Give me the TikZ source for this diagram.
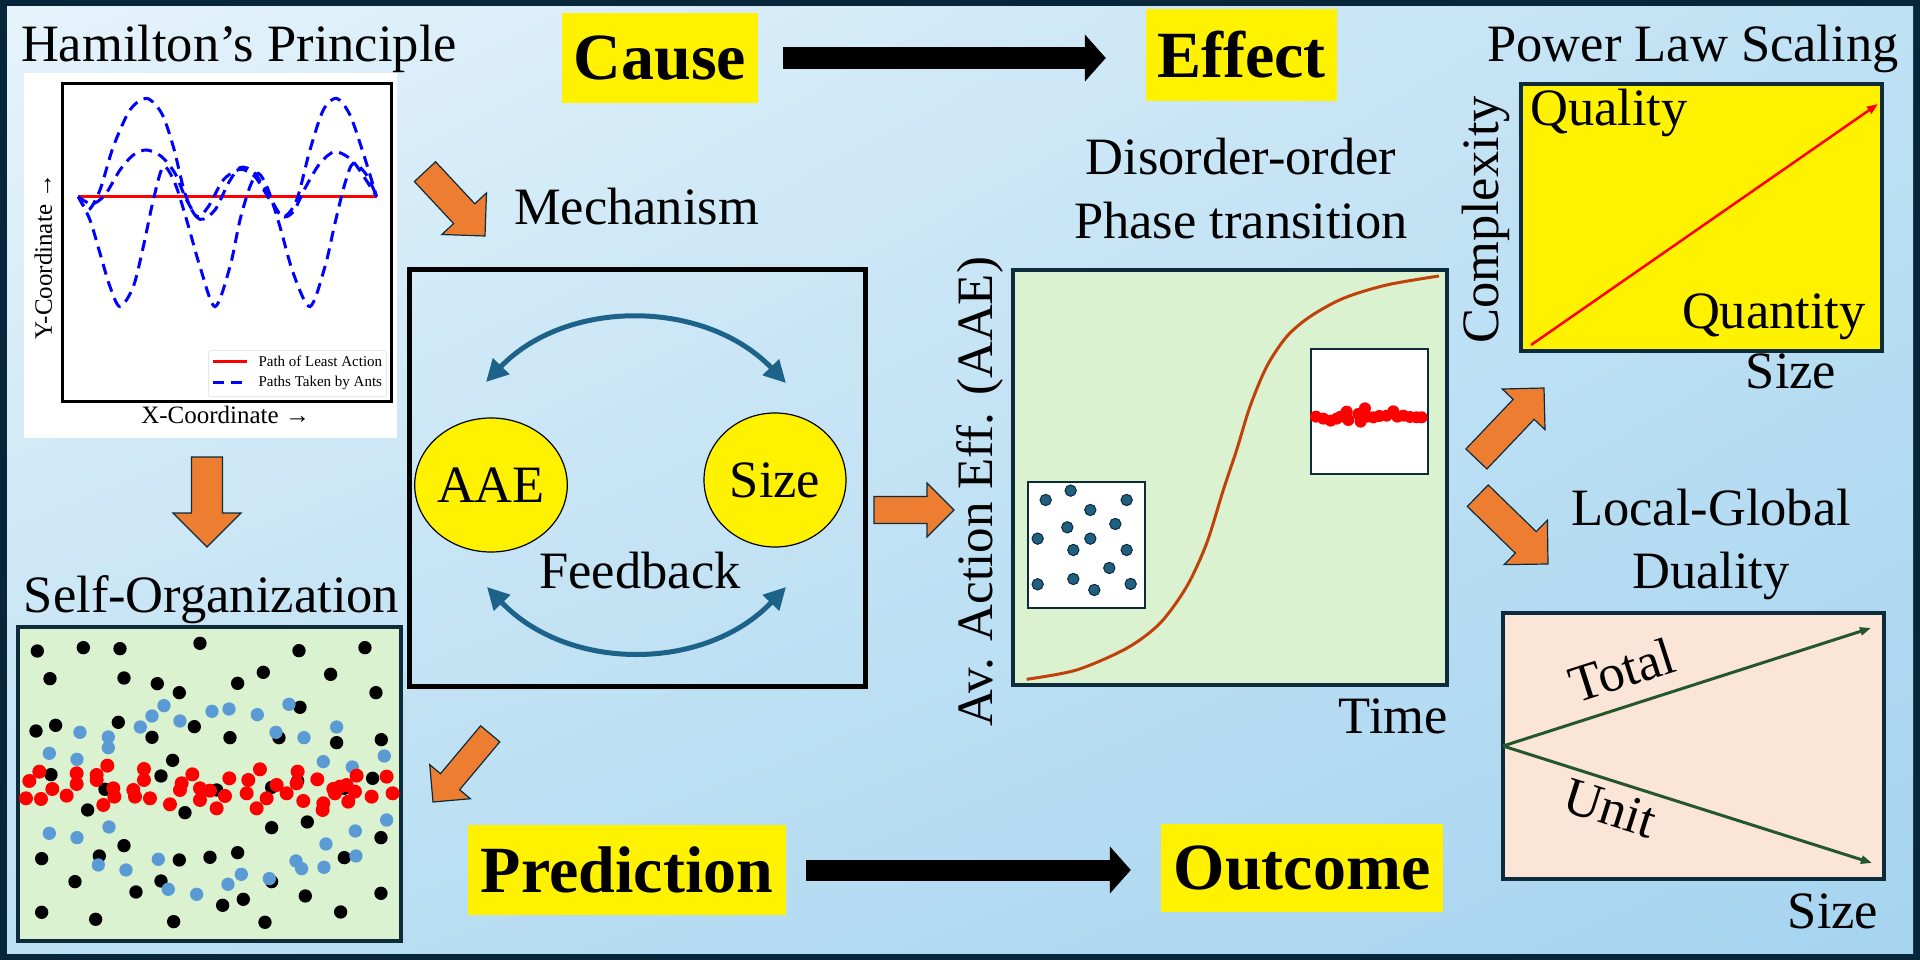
\documentclass[tikz,border=0pt]{standalone}
\usepackage{fontspec}
\setmainfont{Liberation Serif}
\usetikzlibrary{arrows.meta, shapes.geometric, shadings, positioning}

\definecolor{frame}{HTML}{08263A}
\definecolor{navy}{HTML}{0E2B3C}
\definecolor{bgtl}{HTML}{E6F3FB}
\definecolor{bgtr}{HTML}{BFE1F4}
\definecolor{bgbl}{HTML}{BDE0F3}
\definecolor{bgbr}{HTML}{A6D4EF}
\definecolor{orng}{HTML}{ED7D31}
\definecolor{fbteal}{HTML}{1D6389}
\definecolor{mint}{HTML}{DAF2D0}
\definecolor{peach}{HTML}{FBE5D6}
\definecolor{dotblue}{HTML}{5B9BD5}
\definecolor{tealdot}{HTML}{1F5F80}
\definecolor{sigred}{HTML}{C0410A}
\definecolor{dgreen}{HTML}{24582C}

\newcommand{\blockarrow}[6]{%
  \begin{scope}[shift={(#1,#2)}, rotate=#3]
    \draw[orangearrow] (0,0) -- (-#6/2,#6/2) -- (-#6/2,#5/2) -- (-#4,#5/2)
      -- (-#4,-#5/2) -- (-#6/2,-#5/2) -- (-#6/2,-#6/2) -- cycle;
  \end{scope}}

\begin{document}
\begin{tikzpicture}[x=1pt, y=-1pt,
    lbl/.style={font=\fontsize{52.5}{60}\selectfont, inner sep=0pt},
    ybox/.style={fill=yellow, inner sep=0pt, font=\bfseries\fontsize{66}{70}\selectfont},
    blob/.style={ellipse, draw=black, line width=1.2pt, fill=yellow, minimum width=142pt,
      minimum height=134pt, inner sep=0pt, font=\fontsize{52.5}{60}\selectfont},
    plotframe/.style={draw=navy, line width=4pt},
    bigarrow/.style={line width=22pt, -{Triangle[length=21pt, width=46pt]}},
    loopedge/.style={fbteal, line width=5pt,
      {Triangle[length=22pt, width=22pt]}-{Triangle[length=22pt, width=22pt]}},
    orangearrow/.style={fill=orng, draw=navy, line width=1.2pt, line join=miter},
    antpath/.style={blue, line width=3pt, dash pattern=on 11pt off 7pt},
    trendline/.style={line width=3pt, -{Triangle[length=11pt, width=8pt]}}]
  \useasboundingbox (0,0) rectangle (1920,960);
  \fill[frame] (0,0) rectangle (1920,960);
  \shade[upper left=bgtl, upper right=bgtr, lower left=bgbl, lower right=bgbr] (7,7) rectangle (1913,953);

  \node[lbl, anchor=base] (hamtitle) at (239,62) {Hamilton's Principle};
  \node[ybox, minimum width=196pt, minimum height=90pt] (cause) at (660,58) {Cause};
  \node[ybox, minimum width=191pt, minimum height=92pt] (effect) at (1241.5,55) {Effect};
  \draw[bigarrow, shorten <=25pt, shorten >=40pt] (cause.east) -- (cause.east -| effect.west);
  \node[lbl, anchor=base] (powtitle) at (1693,62) {Power Law Scaling};

  \fill[white] (24,73) rectangle (397,438);
  \begin{scope}[shift={(0,60)}, scale=0.3333]
    \draw[line width=2.7pt] (187,70) rectangle (1175,1025);
    \draw[red, line width=3pt] (235,410) -- (1130,410);
    \draw[antpath] plot[smooth] coordinates {(235,410) (270,480) (300,580) (330,680) (360,740)
      (400,680) (430,560) (460,420) (490,320) (525,370) (560,480) (600,620) (645,740) (690,620)
      (720,480) (750,380) (775,340) (805,390) (840,500) (880,640) (930,740) (975,620) (1005,490)
      (1035,370) (1060,310) (1100,345) (1130,410)};
    \draw[antpath] plot[smooth] coordinates {(235,410) (265,450) (300,390) (340,260) (390,150)
      (440,115) (485,160) (520,260) (555,400) (590,470) (625,440) (670,360) (720,328) (765,350)
      (810,420) (850,470) (890,420) (930,270) (970,150) (1010,115) (1050,165) (1090,280) (1130,410)};
    \draw[antpath] plot[smooth] coordinates {(235,410) (275,432) (315,405) (360,330) (400,285)
      (440,270) (485,290) (525,340) (560,420) (600,478) (645,450) (685,370) (720,323) (760,335)
      (800,395) (845,468) (880,455) (915,385) (960,310) (1005,275) (1055,300) (1095,355) (1130,410)};
    \draw[gray!30, fill=white, rounded corners=2pt] (625,872) rectangle (1160,1010);
    \draw[red, line width=3pt] (640,905) -- (740,905);
    \draw[antpath] (640,968) -- (740,968);
    \node[anchor=west, font=\fontsize{15}{18}\selectfont] (leastact) at (765,905) {Path of Least Action};
    \node[anchor=west, font=\fontsize{15}{18}\selectfont] (antpaths) at (765,968) {Paths Taken by Ants};
    \node[rotate=90, font=\fontsize{25}{30}\selectfont] (ylab) at (130,590) {Y-Coordinate →};
    \node[font=\fontsize{25}{30}\selectfont] (xlab) at (677,1065) {X-Coordinate →};
  \end{scope}

  \blockarrow{207}{547}{-90}{90}{31}{68}
  \node[lbl, anchor=base] (selforg) at (211.5,612) {Self-Organization};
  \draw[plotframe, fill=mint] (18,627) rectangle (401,941);
  \begin{scope}[shift={(0,580)}, scale=0.3333]
    \foreach \x/\y in {112/213, 250/203, 360/206, 600/190, 897/212, 1095/203, 150/296, 372/294,
      472/311, 538/338, 713/310, 790/277, 992/283, 1128/338, 108/453, 167/436, 355/427, 456/472,
      583/440, 690/473, 837/473, 900/382, 1010/488, 1144/479, 518/541, 153/584, 483/588, 315/628,
      650/630, 815/622, 893/603, 1118/595, 1033/625, 263/690, 555/698, 815/743, 922/726, 1143/773,
      372/797, 125/836, 298/828, 538/840, 630/832, 713/818, 1033/833, 225/905, 483/903, 408/936,
      815/905, 668/976, 730/958, 916/948, 1143/940, 125/997, 287/1018, 521/1025, 795/1027, 1022/996}
      \fill (\x,\y) circle (20);
    \foreach \x/\y in {492/377, 456/408, 421/441, 540/423, 636/394, 687/387, 772/404, 867/373,
      1010/441, 240/457, 325/471, 325/503, 148/520, 231/538, 828/457, 912/473, 970/545, 1153/528,
      1057/561, 148/760, 231/773, 327/741, 1160/720, 1066/753, 978/792, 1068/828, 888/843, 905/866,
      972/862, 475/838, 295/855, 378/870, 505/928, 590/943, 684/913, 724/883, 808/896}
      \fill[dotblue] (\x,\y) circle (20);
    \foreach \x/\y in {118/575, 88/603, 78/655, 123/657, 157/627, 200/647, 230/580, 230/612,
      290/585, 290/600, 322/557, 340/625, 310/675, 343/650, 400/630, 405/650, 432/567, 432/600,
      450/655, 510/673, 545/610, 540/630, 577/583, 600/625, 600/660, 630/632, 650/685, 675/648,
      688/595, 745/600, 740/640, 780/568, 770/685, 800/655, 830/615, 860/640, 893/575, 890/610,
      910/663, 952/598, 970/670, 968/690, 1000/627, 1005/640, 1040/615, 1045/665, 1065/635,
      1070/587, 1115/650, 1160/590, 1178/640, 1020/620}
      \fill[red] (\x,\y) circle (21);
  \end{scope}

  \blockarrow{485}{236}{-47}{88}{29}{61}
  \node[lbl, anchor=base] (mechtxt) at (636.5,225) {Mechanism};
  \draw[line width=5pt] (409.5,269.5) rectangle (865.5,686.5);
  \node[blob] (aae) at (491,485) {AAE};
  \node[blob] (size) at (775,480) {Size};
  \node[lbl, anchor=base] (fdbk) at (640,588) {Feedback};
  \coordinate (fbul) at (486,382);
  \coordinate (fbur) at (786,383);
  \coordinate (fbll) at (487,587);
  \coordinate (fblr) at (786,587);
  \draw[loopedge] (fbul) .. controls (567,298) and (705,299) .. (fbur);
  \draw[loopedge] (fbll) .. controls (568,672) and (705,672) .. (fblr);

  \blockarrow{954}{510}{0}{80}{27}{54}
  \blockarrow{433}{802}{230}{89}{25}{53}

  \node[ybox, minimum width=318pt, minimum height=90pt] (prediction) at (627,870) {Prediction};
  \node[ybox, minimum width=282pt, minimum height=88pt] (outcome) at (1302,868) {Outcome};
  \draw[bigarrow, line width=21pt, shorten <=20pt, shorten >=30pt] (prediction.east) -- (prediction.east -| outcome.west);

  \node[lbl, anchor=base] (disord) at (1241,175) {Disorder-order};
  \node[lbl, anchor=base] (phasetr) at (1241,239) {Phase transition};
  \draw[plotframe, fill=mint] (1013,270) rectangle (1447,685);
  \begin{scope}[shift={(960,250)}, scale=0.3333]
    \draw[sigred, line width=3pt] plot[smooth] coordinates {(200,1288) (350,1260) (500,1195)
      (600,1120) (680,1010) (740,880) (790,720) (830,600) (870,470) (920,350) (980,260)
      (1050,200) (1150,145) (1280,105) (1437,78)};
    \draw[navy, line width=2pt, fill=white] (205,695) rectangle (555,1073);
    \foreach \x/\y in {257/750, 332/722, 500/750, 391/780, 322/832, 466/822, 233/866, 391/866,
      340/900, 500/900, 448/954, 233/1003, 340/987, 403/1020, 512/1002}
      \filldraw[fill=tealdot, draw=navy, line width=1pt] (\x,\y) circle (17);
    \draw[navy, line width=2pt, fill=white] (1052,297) rectangle (1405,672);
    \foreach \x/\y in {1068/500, 1090/506, 1112/512, 1130/506, 1142/500, 1160/485, 1165/510,
      1195/492, 1202/515, 1215/475, 1222/500, 1240/502, 1258/498, 1280/497, 1300/484, 1312/500,
      1330/497, 1350/501, 1370/502, 1385/502}
      \fill[red] (\x,\y) circle (18);
  \end{scope}
  \node[font=\fontsize{51}{60}\selectfont, rotate=90, anchor=base, inner sep=0pt] (aaelab) at (992,491.5) {Av. Action Eff. (AAE)};
  \node[lbl, anchor=base east] (timelab) at (1448,733) {Time};

  \draw[plotframe, fill=yellow] (1521,84) rectangle (1882,351);
  \coordinate (plo) at (1531,345);
  \coordinate (phi) at (1878,104);
  \draw[trendline, red, line width=2.5pt] (plo) -- (phi);
  \node[lbl, anchor=base west] (quality) at (1530,126) {Quality};
  \node[lbl, anchor=base east] (quantity) at (1866,328) {Quantity};
  \node[lbl, rotate=90, anchor=base] (complex) at (1498,220) {Complexity};
  \node[lbl, anchor=base] (sizeup) at (1791,388) {Size};

  \blockarrow{1544}{388}{46.4}{98}{29}{59}
  \blockarrow{1548}{564}{-44.2}{98}{30}{62}

  \node[lbl, anchor=base] (locglob) at (1711,525) {Local-Global};
  \node[lbl, anchor=base] (duality) at (1711,588) {Duality};
  \draw[plotframe, fill=peach] (1503,613) rectangle (1884,879);
  \coordinate (dorig) at (1503,746);
  \coordinate (dtot) at (1871,628);
  \coordinate (dunit) at (1872,863);
  \draw[trendline, dgreen] (dorig) -- (dtot);
  \draw[trendline, dgreen] (dorig) -- (dunit);
  \node[lbl, rotate=17.8] (total) at (1622,670) {Total};
  \node[lbl, rotate=-17.6] (unit) at (1610,808) {Unit};
  \node[lbl, anchor=base] (sizedn) at (1833,928) {Size};
\end{tikzpicture}
\end{document}
